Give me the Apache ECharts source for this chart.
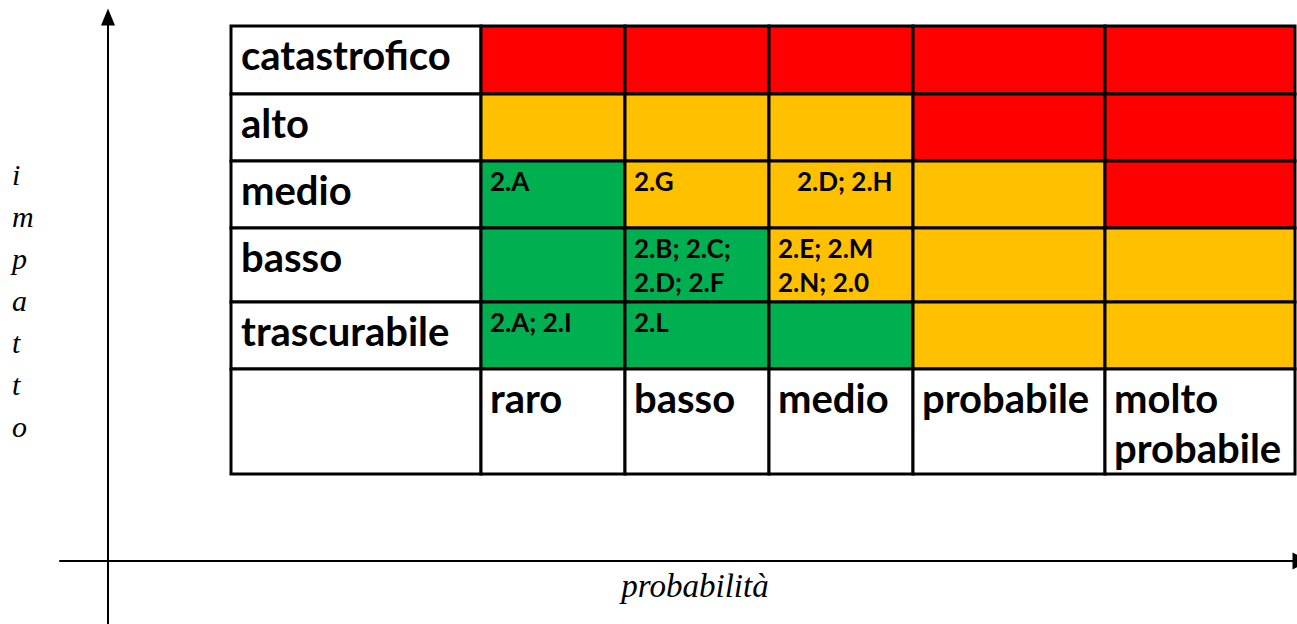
<!DOCTYPE html>
<html><head><meta charset="utf-8">
<script src="https://cdn.jsdelivr.net/npm/echarts@6/dist/echarts.min.js"></script>
<style>html,body{margin:0;padding:0;background:#fff}#c{width:1297px;height:624px}</style>
</head><body><div id="c"></div>
<script>
// ---- data ----
const impactLevels = ['catastrofico', 'alto', 'medio', 'basso', 'trascurabile'];
const probabilityLevels = ['raro', 'basso', 'medio', 'probabile', 'molto\nprobabile'];
// 1 = basso (verde), 2 = medio (giallo), 3 = alto (rosso)
const riskLevels = [
  [3, 3, 3, 3, 3],
  [2, 2, 2, 3, 3],
  [1, 2, 2, 2, 3],
  [1, 1, 2, 2, 2],
  [1, 1, 1, 2, 2]
];
const riskEntries = [
  ['medio', 'raro', '2.A'],
  ['medio', 'basso', '2.G'],
  ['medio', 'medio', '   2.D; 2.H'],
  ['basso', 'basso', '2.B; 2.C;\n2.D; 2.F'],
  ['basso', 'medio', '2.E; 2.M\n2.N; 2.0'],
  ['trascurabile', 'raro', '2.A; 2.I'],
  ['trascurabile', 'basso', '2.L']
];
const xAxisName = 'probabilità';
const yAxisName = 'impatto';

// ---- layout / style ----
const colWidths = [250, 144, 144, 144, 192, 190];
const rowHeights = [68, 67, 67, 74, 67, 105];
const levelColors = { 1: '#00B050', 2: '#FFC000', 3: '#FF0000' };
const FONT = 'Lato, "Open Sans", sans-serif';
const SERIF = '"Liberation Serif", "DejaVu Serif", serif';

const colEdges = [0];
colWidths.forEach(w => colEdges.push(colEdges[colEdges.length - 1] + w));
const rowEdges = [0];
rowHeights.forEach(h => rowEdges.push(rowEdges[rowEdges.length - 1] + h));
const tableW = colEdges[colEdges.length - 1];
const tableH = rowEdges[rowEdges.length - 1];

// build cells: col 0 = row headers, last row = column headers
const cells = [];
impactLevels.forEach((imp, r) => {
  cells.push({ value: [0, r], kind: 'rowHead', text: imp });
  probabilityLevels.forEach((p, c) => {
    const entry = riskEntries.find(e => e[0] === imp && e[1] === p.split('\n')[0]);
    cells.push({ value: [c + 1, r], kind: 'body', level: riskLevels[r][c], text: entry ? entry[2] : '' });
  });
});
cells.push({ value: [0, impactLevels.length], kind: 'corner', text: '' });
probabilityLevels.forEach((p, c) => {
  cells.push({ value: [c + 1, impactLevels.length], kind: 'colHead', text: p });
});

function renderCell(params, api) {
  const d = cells[params.dataIndex];
  const c = d.value[0], r = d.value[1];
  const p0 = api.coord([colEdges[c], rowEdges[r]]);
  const p1 = api.coord([colEdges[c + 1], rowEdges[r + 1]]);
  const x = p0[0], y = p0[1], w = p1[0] - p0[0], h = p1[1] - p0[1];
  const children = [{
    type: 'rect',
    shape: { x, y, width: w, height: h },
    style: { fill: d.kind === 'body' ? levelColors[d.level] : '#fff', stroke: '#000', lineWidth: 3 }
  }];
  if (d.text) {
    let ts;
    if (d.kind === 'rowHead') {
      ts = { x: x + 10, y: y + 29, style: { text: d.text, font: 'bold 40px ' + FONT, fill: '#000', align: 'left', verticalAlign: 'middle' } };
    } else if (d.kind === 'colHead') {
      ts = { x: x + 9, y: y + 4, style: { text: d.text, font: 'bold 40px ' + FONT, fill: '#000', align: 'left', verticalAlign: 'top', lineHeight: 50 } };
    } else {
      ts = { x: x + 9, y: y + 3, style: { text: d.text, font: 'bold 26px ' + FONT, fill: '#000', align: 'left', verticalAlign: 'top', lineHeight: 34 } };
    }
    children.push(Object.assign({ type: 'text', z2: 10 }, ts));
  }
  return { type: 'group', children };
}

const hiddenAxis = { axisLine: { show: false }, axisTick: { show: false }, axisLabel: { show: false }, splitLine: { show: false } };

const chart = echarts.init(document.getElementById('c'), null, { renderer: 'svg' });
chart.setOption({
  backgroundColor: '#fff',
  animation: false,
  grid: [
    { left: 231, top: 26, width: tableW, height: tableH, containLabel: false, outerBoundsMode: 'none' },
    { left: 60, right: -4, top: 17, bottom: 0, containLabel: false, outerBoundsMode: 'none' },
    { left: 108, right: 0, top: 9, bottom: 32, containLabel: false, outerBoundsMode: 'none' }
  ],
  xAxis: [
    { gridIndex: 0, type: 'value', min: 0, max: tableW, show: false },
    {
      gridIndex: 1, type: 'value', min: 0, max: 1, position: 'bottom', offset: -63,
      axisLine: { show: true, onZero: false, symbol: ['none', 'triangle'], symbolSize: [17, 17], lineStyle: { color: '#000', width: 2 } },
      axisTick: { show: false }, axisLabel: { show: false }, splitLine: { show: false },
      name: xAxisName, nameLocation: 'middle', nameGap: 8,
      nameTextStyle: { fontFamily: SERIF, fontStyle: 'italic', fontSize: 33, color: '#000', padding: [0, 0, 0, 29] }
    },
    Object.assign({ gridIndex: 2, type: 'value', min: 0, max: 1 }, hiddenAxis)
  ],
  yAxis: [
    { gridIndex: 0, type: 'value', min: 0, max: tableH, inverse: true, show: false },
    {
      gridIndex: 1, type: 'value', min: 0, max: 1, position: 'left', offset: -48,
      axisLine: { show: true, onZero: false, symbol: ['none', 'triangle'], symbolSize: [14, 17], lineStyle: { color: '#000', width: 2 } },
      axisTick: { show: false }, axisLabel: { show: false }, splitLine: { show: false }
    },
    Object.assign({
      gridIndex: 2, type: 'value', min: 0, max: 1, position: 'left',
      name: yAxisName.split('').join('\n'), nameLocation: 'middle', nameRotate: 0, nameGap: 96,
      nameTextStyle: { fontFamily: SERIF, fontStyle: 'italic', fontSize: 30, color: '#000', lineHeight: 42, align: 'left', verticalAlign: 'middle' }
    }, hiddenAxis)
  ],
  series: [{
    type: 'custom',
    xAxisIndex: 0, yAxisIndex: 0,
    coordinateSystem: 'cartesian2d',
    renderItem: renderCell,
    data: cells,
    silent: true
  }]
});
</script>
</body></html>
